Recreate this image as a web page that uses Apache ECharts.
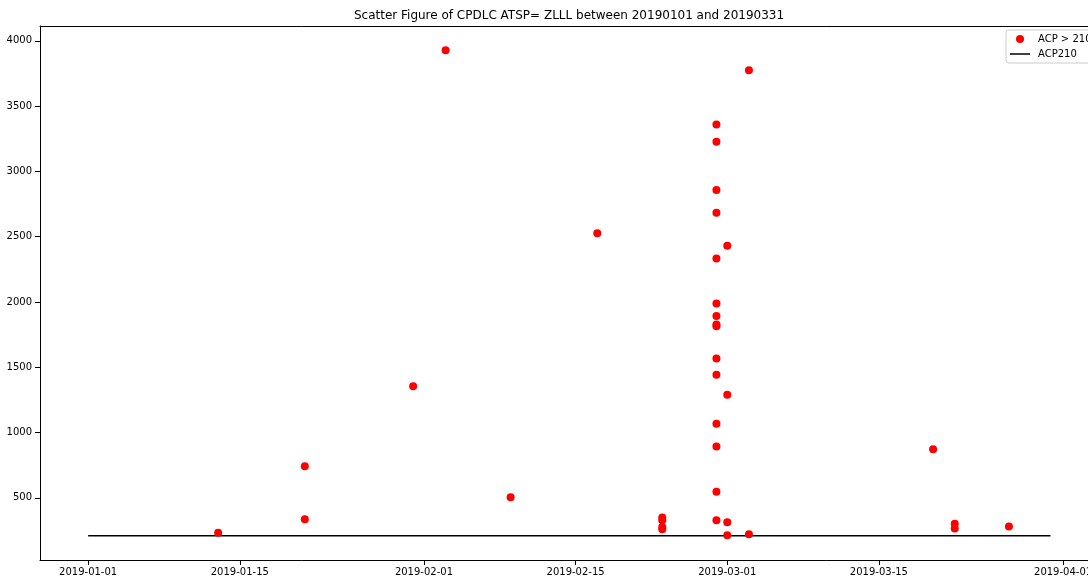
<!DOCTYPE html>
<html>
<head>
<meta charset="utf-8">
<script src="https://cdn.jsdelivr.net/npm/echarts@6/dist/echarts.min.js"></script>
<style>html,body{margin:0;padding:0;background:#fff;overflow:hidden;}#c{width:1088px;height:576px;}</style>
</head>
<body>
<div id="c"></div>
<script>
const titleText = 'Scatter Figure of CPDLC ATSP= ZLLL between 20190101 and 20190331';
const pointDates = [
  '2019-01-13',
  '2019-01-21', '2019-01-21',
  '2019-01-31',
  '2019-02-03',
  '2019-02-09',
  '2019-02-17',
  '2019-02-23', '2019-02-23', '2019-02-23', '2019-02-23',
  '2019-02-28', '2019-02-28', '2019-02-28', '2019-02-28', '2019-02-28',
  '2019-02-28', '2019-02-28', '2019-02-28', '2019-02-28', '2019-02-28',
  '2019-02-28', '2019-02-28', '2019-02-28', '2019-02-28', '2019-02-28',
  '2019-03-01', '2019-03-01', '2019-03-01', '2019-03-01',
  '2019-03-03', '2019-03-03',
  '2019-03-20',
  '2019-03-22', '2019-03-22',
  '2019-03-27'
];
const pointValues = [
  232,
  743, 337,
  1355,
  3928,
  505,
  2527,
  349, 329, 276, 260,
  3360, 3227, 2857, 2683, 2334,
  1989, 1892, 1828, 1815, 1568,
  1442, 1067, 894, 546, 329,
  2430, 1289, 314, 214,
  3776, 222,
  873,
  301, 266,
  281
];
const lineDates = ['2019-01-01T00:00', '2019-03-30T20:00'];
const lineValues = [210, 210];
const xTickLabels = ['2019-01-01', '2019-01-15', '2019-02-01', '2019-02-15', '2019-03-01', '2019-03-15', '2019-04-01'];
const yTickLabels = [500, 1000, 1500, 2000, 2500, 3000, 3500, 4000];
const seriesNames = ['ACP > 210', 'ACP210'];
// visible x-axis limits (right part of the plot is cut by the picture edge)
const xAxisLimits = ['2018-12-27T13:20', '2019-04-03T07:12'];
const yAxisLimits = [24, 4114];

function toTs(s) {
  const [d, t] = s.split('T');
  const [y, m, dd] = d.split('-').map(Number);
  let hh = 0, mm = 0;
  if (t) { [hh, mm] = t.split(':').map(Number); }
  return Date.UTC(y, m - 1, dd, hh, mm);
}

const lineTs = lineDates.map(toTs);
const xMin = toTs(xAxisLimits[0]);
const xMax = toTs(xAxisLimits[1]);
const xTickTs = xTickLabels.map(toTs);
const font = 'DejaVu Sans';

const chart = echarts.init(document.getElementById('c'), null, {renderer: 'canvas', width: 1088, height: 576});
chart.setOption({
  animation: false,
  backgroundColor: '#ffffff',
  title: {
    text: titleText,
    left: 569,
    top: 10,
    padding: 0,
    textAlign: 'center',
    textStyle: {fontFamily: font, fontSize: 12, fontWeight: 'normal', color: '#000'}
  },
  legend: {
    orient: 'vertical',
    left: 1006,
    top: 30,
    padding: [3, 8, 3, 4],
    itemWidth: 20,
    itemHeight: 8,
    itemGap: 3,
    borderColor: '#cccccc',
    borderWidth: 1,
    borderRadius: 3,
    backgroundColor: 'rgba(255,255,255,0.8)',
    textStyle: {fontFamily: font, fontSize: 10, color: '#000', lineHeight: 12, padding: [0, 0, 0, 3]},
    data: [
      {name: seriesNames[0], icon: 'circle'},
      {name: seriesNames[1], icon: 'path://M0,0H20V1.5H0Z'}
    ]
  },
  grid: {left: 40, width: 1048, top: 26, height: 534, show: false, containLabel: false, outerBoundsMode: 'none'},
  xAxis: [{
    type: 'value',
    min: xMin,
    max: xMax,
    scale: true,
    splitLine: {show: false},
    axisLine: {show: true, onZero: false, lineStyle: {color: '#000', width: 1}},
    axisTick: {show: true, length: 5, lineStyle: {color: '#000'}, customValues: xTickTs},
    axisLabel: {
      customValues: xTickTs,
      margin: 7,
      fontFamily: font, fontSize: 10, color: '#000',
      formatter: function (v) {
        const i = xTickTs.indexOf(v);
        return i >= 0 ? xTickLabels[i] : '';
      }
    }
  }, {
    type: 'value',
    position: 'top',
    min: xMin,
    max: xMax,
    scale: true,
    splitLine: {show: false},
    axisLine: {show: true, onZero: false, lineStyle: {color: '#000', width: 1}},
    axisTick: {show: false},
    axisLabel: {show: false}
  }],
  yAxis: {
    type: 'value',
    min: yAxisLimits[0],
    max: yAxisLimits[1],
    scale: true,
    splitLine: {show: false},
    axisLine: {show: true, onZero: false, lineStyle: {color: '#000', width: 1}},
    axisTick: {show: true, length: 5, lineStyle: {color: '#000'}, customValues: yTickLabels},
    axisLabel: {
      customValues: yTickLabels,
      margin: 8,
      fontFamily: font, fontSize: 10, color: '#000',
      formatter: function (v) { return String(v); }
    }
  },
  series: [
    {
      name: seriesNames[1],
      type: 'line',
      symbol: 'none',
      lineStyle: {color: '#000', width: 1.5, cap: 'butt'},
      itemStyle: {color: '#000'},
      data: lineTs.map((t, i) => [t, lineValues[i]]),
      z: 2
    },
    {
      name: seriesNames[0],
      type: 'scatter',
      symbol: 'circle',
      symbolSize: 8,
      itemStyle: {color: '#ff0000', opacity: 1},
      data: pointDates.map((d, i) => [toTs(d), pointValues[i]]),
      z: 3
    }
  ]
});
</script>
</body>
</html>
